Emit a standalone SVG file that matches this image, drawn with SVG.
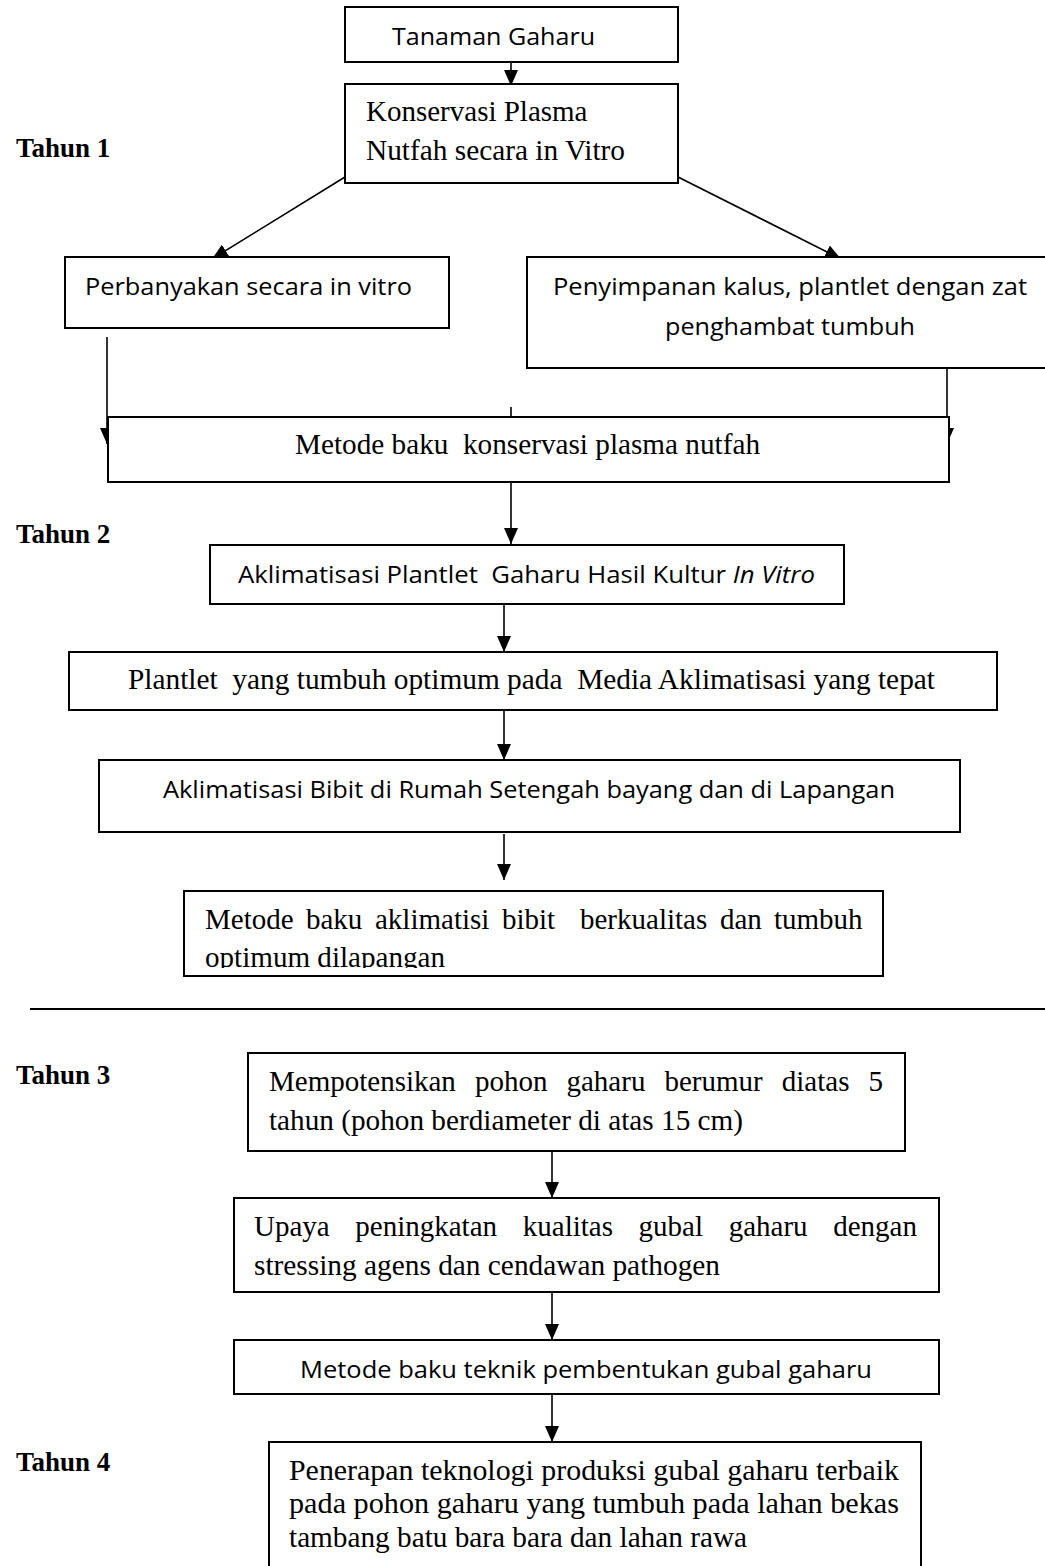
<svg xmlns="http://www.w3.org/2000/svg" width="1045" height="1566" viewBox="0 0 1045 1566">
<style>
.box{fill:#fff;stroke:#000;stroke-width:2}
.ln{fill:none;stroke:#000;stroke-width:1.6}
.sr{font-family:"Liberation Serif","Times New Roman",serif;font-size:29px;fill:#000;white-space:pre}
.ss{font-family:"Open Sans","Liberation Sans",sans-serif;font-size:24px;fill:#000;white-space:pre}
.yr{font-family:"Liberation Serif","Times New Roman",serif;font-size:27px;font-weight:bold;fill:#000}
</style>
<defs>
<marker id="ah" markerUnits="userSpaceOnUse" markerWidth="16" markerHeight="14" refX="16" refY="7" orient="auto">
<path d="M0,0 L16,7 L0,14 z" fill="#000"/>
</marker>
<clipPath id="clipOpt"><rect x="180" y="880" width="710" height="88"/></clipPath>
</defs>
<rect width="1045" height="1566" fill="#fff"/>
<g id="labels">
<text class="yr" x="16" y="157">Tahun 1</text>
<text class="yr" x="16" y="543">Tahun 2</text>
<text class="yr" x="16" y="1084">Tahun 3</text>
<text class="yr" x="16" y="1471">Tahun 4</text>
<line x1="30" y1="1009" x2="1045" y2="1009" stroke="#000" stroke-width="2"/>
</g>
<g id="connectors">
<line class="ln" x1="511" y1="62" x2="511" y2="86" marker-end="url(#ah)"/>
<line class="ln" x1="345" y1="177" x2="212" y2="259" marker-end="url(#ah)"/>
<line class="ln" x1="678" y1="177" x2="841" y2="259" marker-end="url(#ah)"/>
<line class="ln" x1="107" y1="337" x2="107" y2="444" marker-end="url(#ah)"/>
<line class="ln" x1="947" y1="368" x2="947" y2="444" marker-end="url(#ah)"/>
<line class="ln" x1="511" y1="407" x2="511" y2="418"/>
<line class="ln" x1="511" y1="482" x2="511" y2="544" marker-end="url(#ah)"/>
<line class="ln" x1="504" y1="604" x2="504" y2="652" marker-end="url(#ah)"/>
<line class="ln" x1="504" y1="710" x2="504" y2="760" marker-end="url(#ah)"/>
<line class="ln" x1="504" y1="834" x2="504" y2="880" marker-end="url(#ah)"/>
<line class="ln" x1="552" y1="1151" x2="552" y2="1198" marker-end="url(#ah)"/>
<line class="ln" x1="552" y1="1292" x2="552" y2="1340" marker-end="url(#ah)"/>
<line class="ln" x1="552" y1="1394" x2="552" y2="1442" marker-end="url(#ah)"/>
</g>
<g id="n-tanaman">
<rect class="box" x="345" y="7" width="333" height="55"/>
<text class="ss" x="392" y="45" textLength="203" lengthAdjust="spacingAndGlyphs">Tanaman Gaharu</text>
</g>
<g id="n-konservasi">
<rect class="box" x="345" y="84" width="333" height="99"/>
<text class="sr" x="366" y="121">Konservasi Plasma</text>
<text class="sr" x="366" y="160" textLength="259" lengthAdjust="spacingAndGlyphs">Nutfah secara in Vitro</text>
</g>
<g id="n-perbanyakan">
<rect class="box" x="65" y="257" width="384" height="71"/>
<text class="ss" x="85" y="295" textLength="327" lengthAdjust="spacingAndGlyphs">Perbanyakan secara in vitro</text>
</g>
<g id="n-penyimpanan">
<rect class="box" x="527" y="257" width="530" height="111"/>
<text class="ss" x="553" y="295" textLength="474" lengthAdjust="spacingAndGlyphs">Penyimpanan kalus, plantlet dengan zat</text>
<text class="ss" x="665" y="335" textLength="250" lengthAdjust="spacingAndGlyphs">penghambat tumbuh</text>
</g>
<g id="n-metode-konservasi">
<rect class="box" x="108" y="417" width="841" height="65"/>
<text class="sr" x="295" y="454" textLength="465" lengthAdjust="spacingAndGlyphs">Metode baku  konservasi plasma nutfah</text>
</g>
<g id="n-aklimatisasi-plantlet">
<rect class="box" x="210" y="545" width="634" height="59"/>
<text class="ss" x="238" y="583" textLength="577" lengthAdjust="spacingAndGlyphs">Aklimatisasi Plantlet  Gaharu Hasil Kultur <tspan font-style="italic">In Vitro</tspan></text>
</g>
<g id="n-plantlet">
<rect class="box" x="69" y="652" width="928" height="58"/>
<text class="sr" x="128" y="689" textLength="807" lengthAdjust="spacingAndGlyphs">Plantlet  yang tumbuh optimum pada  Media Aklimatisasi yang tepat</text>
</g>
<g id="n-aklimatisasi-bibit">
<rect class="box" x="99" y="760" width="861" height="72"/>
<text class="ss" x="163" y="798" textLength="732" lengthAdjust="spacingAndGlyphs">Aklimatisasi Bibit di Rumah Setengah bayang dan di Lapangan</text>
</g>
<g id="n-metode-aklimatisi">
<rect class="box" x="184" y="891" width="699" height="85"/>
<text class="sr" y="929"><tspan x="205">Metode</tspan> <tspan x="306">baku</tspan> <tspan x="375">aklimatisi</tspan> <tspan x="502">bibit</tspan>  <tspan x="580">berkualitas</tspan> <tspan x="720">dan</tspan> <tspan x="774">tumbuh</tspan></text>
<text class="sr" x="205" y="967" textLength="240" lengthAdjust="spacingAndGlyphs" clip-path="url(#clipOpt)">optimum dilapangan</text>
</g>
<g id="n-mempotensikan">
<rect class="box" x="248" y="1053" width="657" height="98"/>
<text class="sr" y="1091"><tspan x="269">Mempotensikan</tspan> <tspan x="475">pohon</tspan> <tspan x="566.5">gaharu</tspan> <tspan x="664.4">berumur</tspan> <tspan x="781.8">diatas</tspan> <tspan x="868.5">5</tspan></text>
<text class="sr" x="269" y="1130" textLength="474" lengthAdjust="spacingAndGlyphs">tahun (pohon berdiameter di atas 15 cm)</text>
</g>
<g id="n-upaya">
<rect class="box" x="234" y="1198" width="705" height="94"/>
<text class="sr" y="1236"><tspan x="254">Upaya</tspan> <tspan x="355.3">peningkatan</tspan> <tspan x="522.8">kualitas</tspan> <tspan x="638.6">gubal</tspan> <tspan x="728.7">gaharu</tspan> <tspan x="833.2">dengan</tspan></text>
<text class="sr" x="254" y="1275" textLength="466" lengthAdjust="spacingAndGlyphs">stressing agens dan cendawan pathogen</text>
</g>
<g id="n-metode-teknik">
<rect class="box" x="234" y="1340" width="705" height="54"/>
<text class="ss" x="300" y="1378" textLength="572" lengthAdjust="spacingAndGlyphs">Metode baku teknik pembentukan gubal gaharu</text>
</g>
<g id="n-penerapan">
<rect class="box" x="269" y="1442" width="652" height="140"/>
<text class="sr" x="289" y="1480" textLength="610" lengthAdjust="spacingAndGlyphs">Penerapan teknologi produksi gubal gaharu terbaik</text>
<text class="sr" x="289" y="1513" textLength="610" lengthAdjust="spacingAndGlyphs">pada pohon gaharu yang tumbuh pada lahan bekas</text>
<text class="sr" x="289" y="1547" textLength="458" lengthAdjust="spacingAndGlyphs">tambang batu bara bara dan lahan rawa</text>
</g>
</svg>
